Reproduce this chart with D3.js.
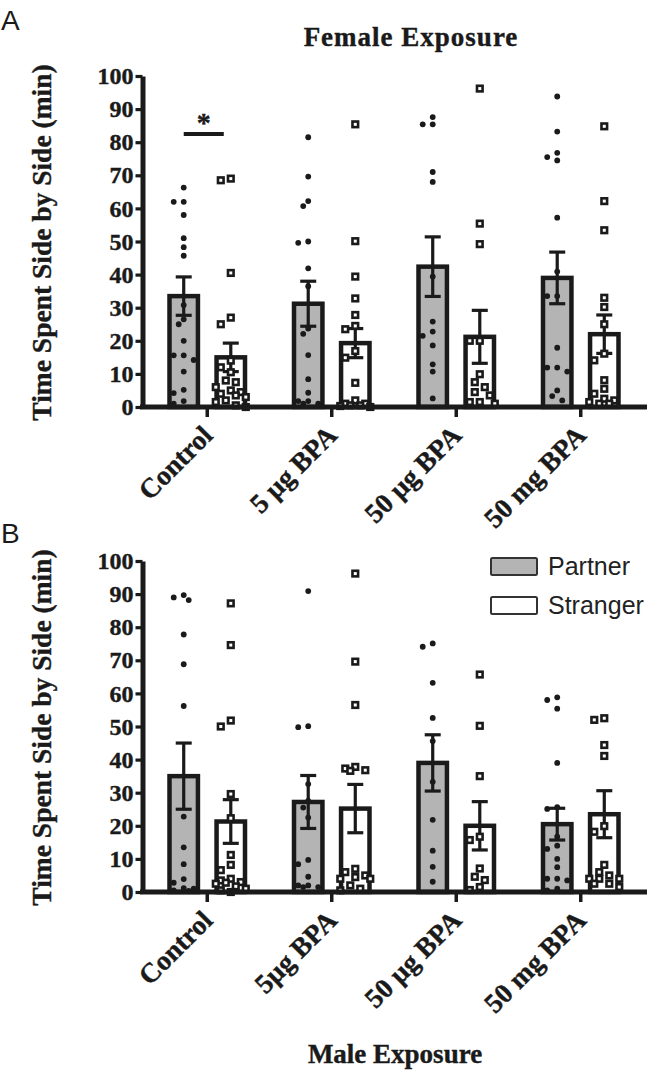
<!DOCTYPE html>
<html><head><meta charset="utf-8">
<script src="https://cdn.jsdelivr.net/npm/d3@7"></script>
<style>body{margin:0;background:#fff}</style>
</head><body>
<script>
const categoriesA = ["Control", "5 µg BPA", "50 µg BPA", "50 mg BPA"];
const categoriesB = ["Control", "5µg BPA", "50 µg BPA", "50 mg BPA"];
const series = ["Partner", "Stranger"];
const yTicks = [0,10,20,30,40,50,60,70,80,90,100];

// Panel A (Female Exposure) means and SEM
const partnerMeanA = [33.5, 31.2, 42.4, 39.0];
const partnerSemA  = [5.8, 6.8, 9.0, 7.8];
const strangerMeanA = [15.0, 19.3, 21.2, 22.0];
const strangerSemA  = [4.3, 4.4, 8.0, 5.8];
// Panel B (Male Exposure)
const partnerMeanB = [35.0, 27.2, 39.0, 20.5];
const partnerSemB  = [10.0, 8.0, 8.5, 4.8];
const strangerMeanB = [21.3, 25.2, 20.0, 23.5];
const strangerSemB  = [6.6, 7.3, 7.3, 7.1];

// individual points, panel A
const partnerPointsA = [
  [66.3, 62, 62, 58, 51, 48.3, 45.7, 30.8, 26.5, 25, 20, 15.6, 15.6, 14.2, 10.7, 5.2, 4.2, 1.8, 1],
  [81.5, 69.6, 62.2, 60.7, 50, 49.6, 41.9, 36.5, 23.7, 22.1, 15.7, 8.4, 4.3, 1.8, 1, 1, 1.8],
  [87.6, 85.4, 85.4, 71, 68, 39.4, 25.8, 22.8, 21.5, 18.6, 12.9, 10.7, 2.6],
  [93.8, 83.2, 76.8, 75.5, 74.5, 57.2, 40.9, 33.5, 33.5, 17.9, 11.9, 11.9, 10.7, 5, 3.3, 2]
];
const strangerPointsA = [
  [69, 68.5, 40.5, 27, 25, 14, 12, 10.5, 8, 7.5, 6, 5, 4.5, 4, 3.5, 3, 2, 1.5, 0.5, 0],
  [85.4, 50.1, 39.4, 32.8, 27.8, 24.5, 23.5, 16.9, 14.9, 7.3, 2, 1, 0.5, 0, 0.3, 1, 0.5],
  [96.2, 55.4, 49.2, 20, 20, 9.9, 7.5, 6, 4.5, 3.5, 1.5, 1, 1.5],
  [84.8, 62.2, 53.4, 33, 30.2, 25, 16.1, 14.1, 8.1, 5.5, 4, 2.5, 2, 1.5, 1, 1]
];
// individual points, panel B
const partnerPointsB = [
  [89.7, 89, 88.2, 77.8, 68.8, 56.2, 22.8, 13.5, 8.4, 3.9, 2.8, 1.2, 1, 0.5, 0.3],
  [90.9, 50.1, 49.8, 32.6, 27.5, 25.5, 22.5, 9.7, 8.4, 4.6, 2, 1.5, 1.5, 2],
  [75.1, 74.1, 63.2, 52.6, 45.6, 33.3, 21.8, 12.5, 7.6, 3.1],
  [58.8, 58, 55.4, 39, 25.6, 25.1, 16.7, 14, 13, 10, 7.5, 4, 4, 3.5, 1, 0.5]
];
const strangerPointsB = [
  [87.2, 74.6, 51.8, 50, 29.6, 22.3, 11.2, 8.2, 6.6, 4, 3.5, 3, 2.8, 2.5, 1.7, 1, 0.5, 0],
  [96.2, 69.6, 56.5, 37.8, 37.3, 36.8, 36.6, 7, 6, 5, 4.5, 4, 4, 2, 1, 0.5],
  [65.7, 50.2, 35, 16.7, 15.7, 7.1, 4.6, 3.6, 1.5, 0.6],
  [52.5, 52, 44.4, 41.1, 19.9, 18.2, 8.2, 6, 5, 4, 4, 4, 2.5, 2.5, 1.5]
];
const sigA = {value: 82.5, label: "*"};
const titleA = "Female Exposure";
const titleB = "Male Exposure";
const yTitle = "Time Spent Side by Side (min)";

const W = 652, H = 1080;
const INK = "#1a1a1a";
const GRAY = "#b4b4b4";
const SERIF = "'Liberation Serif','Times New Roman',serif";
const SANS = "'Liberation Sans',Arial,sans-serif";

const svg = d3.select("body").append("svg").attr("width", W).attr("height", H);
svg.append("rect").attr("width", W).attr("height", H).attr("fill", "#fff");

function heavy(sel) {
  return sel.attr("stroke", INK).attr("stroke-width", 0.4).attr("paint-order", "stroke");
}

function swarm(vals, y, cx, minD) {
  const sorted = vals.map((v,i)=>({v,i})).sort((a,b)=>b.v-a.v);
  const placed = [];
  const cands = [0,-5,5,-10,10,-15,15];
  sorted.forEach(p => {
    const py = y(p.v);
    let best = null, bestD = -1;
    for (const c of cands) {
      let md = Infinity;
      placed.forEach(q => { md = Math.min(md, Math.hypot(q.x - c, q.y - py)); });
      if (md >= minD) { best = c; break; }
      if (md > bestD) { bestD = md; best = c; }
    }
    placed.push({x: best, y: py, v: p.v});
  });
  return placed.map(p => ({x: cx + p.x, y: p.y}));
}

function panel(cfg) {
  const g = svg.append("g");
  const y = d3.scaleLinear().domain([0,100]).range([cfg.zero, cfg.top]);
  const x = d3.scaleBand().domain(cfg.cats).range([145, 643]);
  const sub = d3.scaleBand().domain(series).range([-40, 40]).paddingInner(0.3);
  const cx = c => x(c) + x.bandwidth()/2;
  const sw = 4.5;

  const rows = [];
  cfg.cats.forEach((c,i) => {
    rows.push({c, s:"Partner", m: cfg.pm[i], e: cfg.ps[i], pts: cfg.pp[i]});
    rows.push({c, s:"Stranger", m: cfg.sm[i], e: cfg.ss[i], pts: cfg.sp[i]});
  });
  // bars
  rows.forEach(r => {
    const x0 = cx(r.c) + sub(r.s);
    const bw = sub.bandwidth();
    g.append("rect").attr("x", x0 + sw/2).attr("width", bw - sw)
      .attr("y", y(r.m)).attr("height", y(0) - y(r.m))
      .attr("fill", r.s === "Partner" ? GRAY : "#fff")
      .attr("stroke", INK).attr("stroke-width", sw);
  });
  // error bars
  rows.forEach(r => {
    const mx = cx(r.c) + sub(r.s) + sub.bandwidth()/2;
    const eg = g.append("g").attr("stroke", INK).attr("stroke-width", 3.2);
    eg.append("line").attr("x1", mx).attr("x2", mx).attr("y1", y(r.m - r.e)).attr("y2", y(r.m + r.e));
    [r.m - r.e, r.m + r.e].forEach(v => eg.append("line").attr("x1", mx-8).attr("x2", mx+8).attr("y1", y(v)).attr("y2", y(v)));
  });
  // points
  rows.forEach(r => {
    const mx = cx(r.c) + sub(r.s) + sub.bandwidth()/2;
    if (r.s === "Partner") {
      swarm(r.pts, y, mx, 7).forEach(p => g.append("circle").attr("cx", p.x).attr("cy", p.y).attr("r", 2.9).attr("fill", INK));
    } else {
      swarm(r.pts, y, mx, 8.5).forEach(p => g.append("rect").attr("x", p.x-2.8).attr("y", p.y-2.8).attr("width", 5.6).attr("height", 5.6)
        .attr("fill", "#fff").attr("stroke", INK).attr("stroke-width", 2.6));
    }
  });

  // y axis
  const ya = g.append("g").attr("transform", "translate(142.5,0)")
    .call(d3.axisLeft(y).tickValues(yTicks).tickSize(7).tickSizeOuter(0).tickPadding(2));
  ya.select(".domain").attr("stroke", INK).attr("stroke-width", 5);
  ya.selectAll(".tick line").attr("stroke", INK).attr("stroke-width", 3.2);
  heavy(ya.selectAll(".tick text").attr("fill", INK).style("font-family", SERIF).style("font-weight", "bold").style("font-size", "24px"));
  // x axis
  g.append("line").attr("x1", 140).attr("x2", 647).attr("y1", y(0)).attr("y2", y(0)).attr("stroke", INK).attr("stroke-width", 5);
  const xa = g.append("g").attr("transform", `translate(0,${y(0)})`)
    .call(d3.axisBottom(x).tickSize(10).tickSizeOuter(0).tickFormat(""));
  xa.select(".domain").remove();
  xa.selectAll(".tick line").attr("stroke", INK).attr("stroke-width", 3.5);
  cfg.cats.forEach(c => {
    heavy(g.append("text").attr("transform", `translate(${cx(c)+7},${y(0)+30}) rotate(-45)`)
      .attr("text-anchor", "end").attr("fill", INK)
      .style("font-family", SERIF).style("font-weight", "bold").style("font-size", "27.5px").text(c));
  });
  // y title
  heavy(g.append("text").attr("transform", `translate(51,${(y(0)+y(100))/2 + 1}) rotate(-90)`)
    .attr("text-anchor", "middle").attr("fill", INK)
    .style("font-family", SERIF).style("font-weight", "bold").style("font-size", "27.5px").text(yTitle));
  // panel letter
  g.append("text").attr("x", 1).attr("y", cfg.letterY).attr("fill", INK)
    .style("font-family", SANS).style("font-size", "28px").text(cfg.letter);
  return {g, y, x, sub, cx};
}

const A = panel({cats: categoriesA, zero: 407, top: 76, pm: partnerMeanA, ps: partnerSemA, sm: strangerMeanA, ss: strangerSemA,
  pp: partnerPointsA, sp: strangerPointsA, letter: "A", letterY: 30});
const B = panel({cats: categoriesB, zero: 892, top: 561, pm: partnerMeanB, ps: partnerSemB, sm: strangerMeanB, ss: strangerSemB,
  pp: partnerPointsB, sp: strangerPointsB, letter: "B", letterY: 543});

// significance marker panel A
{
  const c = categoriesA[0];
  const x1 = A.cx(c) + A.sub("Partner") + A.sub.bandwidth()/2;
  const x2 = A.cx(c) + A.sub("Stranger") + A.sub.bandwidth()/2 - 7;
  A.g.append("line").attr("x1", x1).attr("x2", x2).attr("y1", A.y(sigA.value)).attr("y2", A.y(sigA.value))
    .attr("stroke", INK).attr("stroke-width", 4);
  heavy(A.g.append("text").attr("x", (x1+x2)/2).attr("y", A.y(sigA.value) - 2).attr("text-anchor", "middle").attr("fill", INK)
    .style("font-family", SERIF).style("font-weight", "bold").style("font-size", "28px").text(sigA.label));
}
// titles
heavy(svg.append("text").attr("x", 411).attr("y", 46).attr("text-anchor", "middle").attr("fill", INK)
  .style("font-family", SERIF).style("font-weight", "bold").style("font-size", "27px").style("letter-spacing", "1px").text(titleA));
heavy(svg.append("text").attr("x", 395).attr("y", 1063).attr("text-anchor", "middle").attr("fill", INK)
  .style("font-family", SERIF).style("font-weight", "bold").style("font-size", "27px").text(titleB));

// legend panel B
const leg = svg.append("g");
series.forEach((s,i) => {
  const ly = 558 + i*39;
  leg.append("rect").attr("x", 491).attr("y", ly).attr("width", 46).attr("height", 17).attr("rx", 1.5)
    .attr("fill", s === "Partner" ? GRAY : "#fff").attr("stroke", "#333").attr("stroke-width", 2);
  leg.append("text").attr("x", 548).attr("y", ly + 17).attr("fill", "#222")
    .style("font-family", SANS).style("font-size", "25px").text(s);
});
</script>
</body></html>
